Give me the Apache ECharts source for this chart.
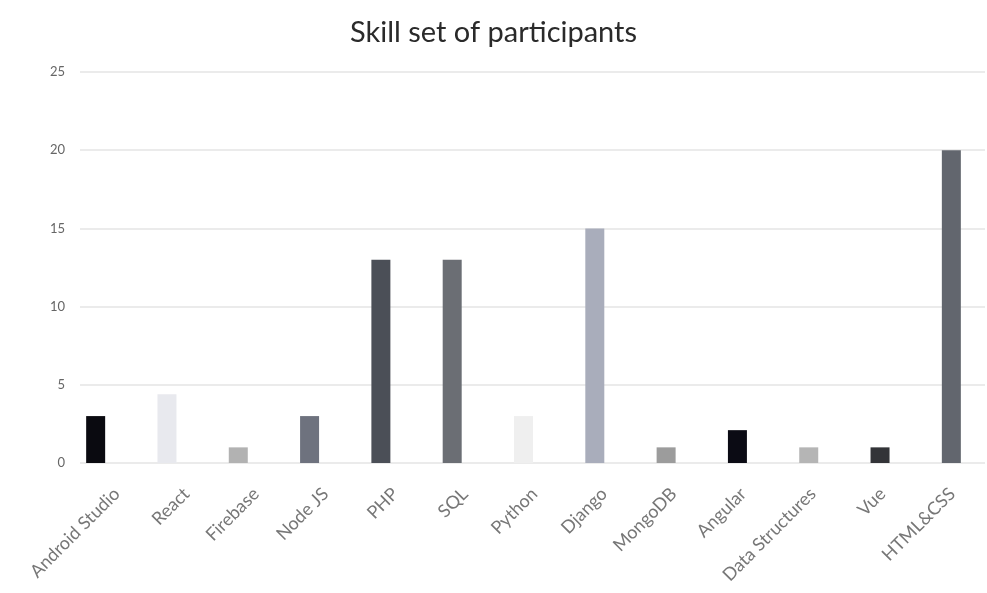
<!DOCTYPE html>
<html><head><meta charset="utf-8">
<script src="https://cdn.jsdelivr.net/npm/echarts@6/dist/echarts.min.js"></script>
<style>html,body{margin:0;padding:0;background:#fff}#c{width:987px;height:593px}</style>
</head><body><div id="c"></div>
<script>
const categories = ['Android Studio','React','Firebase','Node JS','PHP','SQL','Python','Django','MongoDB','Angular','Data Structures','Vue','HTML&CSS'];
const values = [3, 4.4, 1, 3, 13, 13, 3, 15, 1, 2.1, 1, 1, 20];
const barColors = ['#0a0a10','#e8e9ee','#b2b2b2','#6e727e','#4b4f57','#6b6e74','#efefef','#a9adbb','#9c9c9c','#0b0b14','#b5b5b5','#333438','#62666e'];
const yTicks = [0,5,10,15,20,25];

const chart = echarts.init(document.getElementById('c'));
chart.setOption({
  animation:false,
  title:{text:'Skill set of participants',left:'center',top:13,padding:[5,0,5,16],
    textStyle:{fontFamily:'Lato',fontSize:29,fontWeight:'normal',color:'#2a2a2a'}},
  grid:[
    {left:60,width:927,top:72,bottom:130},
    {left:82,width:927,top:72,bottom:130},
    {left:80,right:2,top:72,bottom:130}
  ],
  xAxis:[
    {type:'category',data:categories,gridIndex:0,axisLine:{show:false},axisTick:{show:false},axisLabel:{show:false}},
    {type:'category',data:categories,gridIndex:1,axisLine:{show:false},axisTick:{show:false},
     axisLabel:{rotate:45,color:'#777',fontSize:18,fontFamily:'Lato',margin:28,interval:0}},
    {type:'category',data:categories,gridIndex:2,show:false}
  ],
  yAxis:[
    {type:'value',min:0,max:25,interval:5,gridIndex:0,show:false,splitLine:{show:false}},
    {type:'value',min:0,max:25,interval:5,gridIndex:1,show:false,splitLine:{show:false}},
    {type:'value',min:0,max:25,interval:5,gridIndex:2,
     axisLabel:{color:'#666',fontSize:13,fontFamily:'Lato',margin:15,formatter:v=>yTicks.includes(v)?String(v):''},
     splitLine:{lineStyle:{color:'#e4e4e4',width:1.5}},axisLine:{show:false},axisTick:{show:false}}
  ],
  series:[{type:'bar',barWidth:19,xAxisIndex:0,yAxisIndex:0,z:3,
    data:values.map((v,i)=>({value:v,itemStyle:{color:barColors[i]}}))}]
});
</script></body></html>
